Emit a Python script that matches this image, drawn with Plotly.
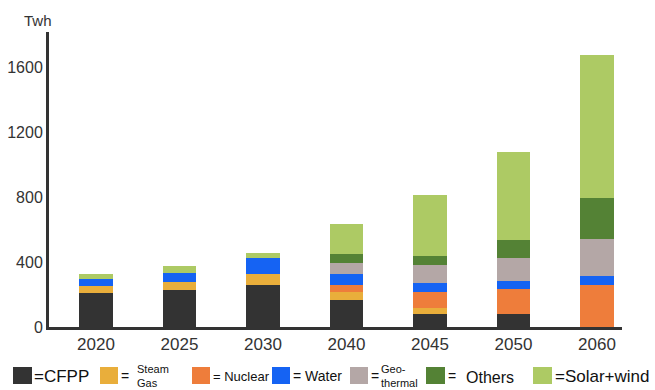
import plotly.graph_objects as go

years = ["2020", "2025", "2030", "2040", "2045", "2050", "2060"]
cfpp = [210, 228, 257, 167, 80, 78, 0]
steam_gas = [46, 51, 70, 47, 39, 0, 0]
nuclear = [0, 0, 0, 45, 99, 154, 259]
water = [38, 56, 97, 68, 56, 51, 56]
geothermal = [0, 0, 0, 66, 109, 140, 230]
others = [0, 0, 0, 56, 56, 117, 253]
solar_wind = [33, 41, 35, 187, 377, 541, 881]

series = [
    ("CFPP", cfpp, "#333333"),
    ("Steam Gas", steam_gas, "#E9AE3B"),
    ("Nuclear", nuclear, "#EE7D3B"),
    ("Water", water, "#1563F3"),
    ("Geothermal", geothermal, "#B4A7A6"),
    ("Others", others, "#548235"),
    ("Solar+wind", solar_wind, "#ADCA64"),
]

y_ticks = [0, 400, 800, 1200, 1600]

fig = go.Figure()
for name, vals, col in series:
    fig.add_trace(go.Bar(x=years, y=vals, name=name, marker=dict(color=col, line=dict(width=0)),
                         width=0.4, showlegend=False))

FONT = "Liberation Sans, Arial"
L, R, T, B = 49, 33, 32, 63
W, H = 655, 390
PW, PH = W - L - R, H - T - B


def px(x):
    return (x - L) / PW


def py(y):
    return (H - B - y) / PH


fig.update_layout(
    width=W, height=H, barmode="stack",
    margin=dict(l=L, r=R, t=T, b=B, pad=0),
    plot_bgcolor="white", paper_bgcolor="white",
    font=dict(family=FONT, color="#3a3a3a"),
    xaxis=dict(type="category", range=[-0.563, 6.3], showline=True, linewidth=3, linecolor="#333333",
               ticks="", showgrid=False, automargin=False,
               tickfont=dict(size=17, family=FONT, color="#333333")),
    yaxis=dict(range=[0, 1821], showline=True, linewidth=3, linecolor="#333333", ticks="",
               tickvals=y_ticks, showgrid=False, zeroline=False, automargin=False,
               tickfont=dict(size=16, family=FONT, color="#333333")),
)

annotations = [dict(text="Twh", x=px(38), y=py(21), xref="paper", yref="paper", showarrow=False,
                    font=dict(size=15, family=FONT, color="#333333"), xanchor="center", yanchor="middle")]
shapes = []

legend_boxes = [(13, 32, "#333333"), (100, 118, "#E9AE3B"), (192, 210, "#EE7D3B"), (272, 290, "#1563F3"),
                (350, 368, "#B4A7A6"), (426, 445, "#548235"), (533, 552, "#ADCA64")]
for x0, x1, col in legend_boxes:
    shapes.append(dict(type="rect", xref="paper", yref="paper", x0=px(x0), x1=px(x1), y0=py(384), y1=py(367),
                       fillcolor=col, line=dict(width=0)))

legend_texts = [
    ("=CFPP", 32, 376, 17),
    ("=", 119, 376, 14),
    ("Steam<br>Gas", 135, 376, 11),
    ("= Nuclear", 211, 376, 13),
    ("= Water", 291, 376, 14),
    ("=", 369, 376, 14),
    ("Geo-<br>thermal", 379, 376, 11),
    ("=", 446, 376, 14),
    ("Others", 464, 377, 16),
    ("=Solar+wind", 553, 376, 17),
]
for txt, x, y, s in legend_texts:
    annotations.append(dict(text=txt, x=px(x), y=py(y), xref="paper", yref="paper", showarrow=False,
                            xanchor="left", yanchor="middle", align="left",
                            font=dict(size=s, family=FONT, color="#111111")))

fig.update_layout(annotations=annotations, shapes=shapes)
fig.write_html("out.html")
